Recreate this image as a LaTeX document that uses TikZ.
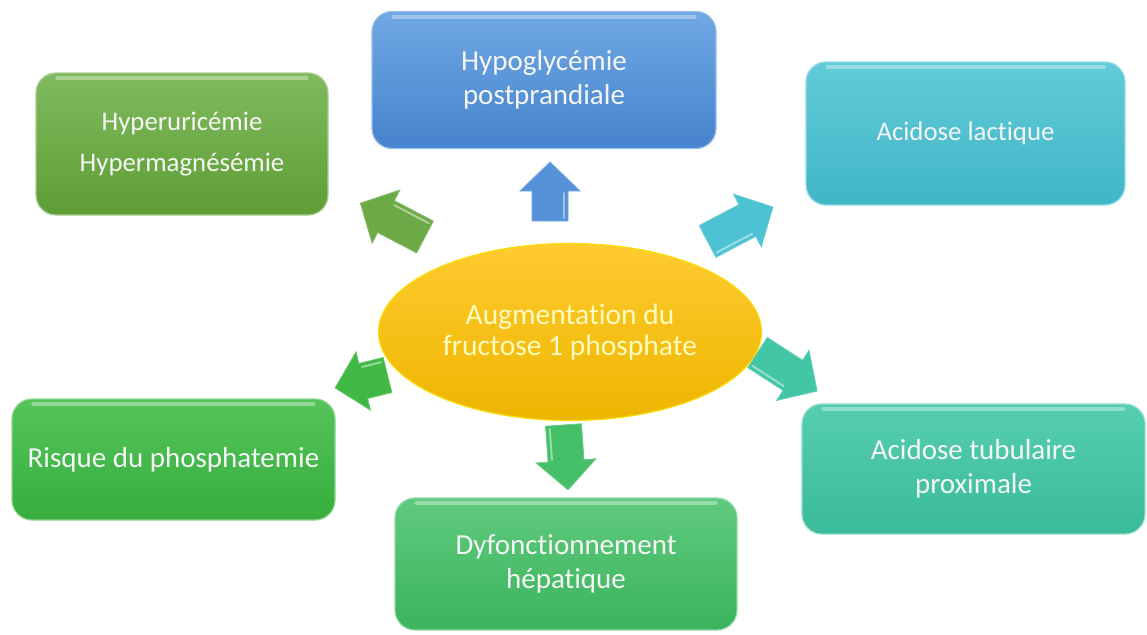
\documentclass[tikz,border=0pt]{standalone}
\usepackage{fontspec}
\setmainfont{Carlito}[Ligatures={NoCommon}]
\usetikzlibrary{shapes.geometric}
\begin{document}
\begin{tikzpicture}[x=1pt,y=-1pt,
  box/.style={rounded corners=20pt, inner sep=0pt, align=center, text=white!96!black,
     font=\fontsize{29}{34}\selectfont, line width=1.2pt},
  smalltext/.style={font=\fontsize{26.8}{33}\selectfont},
  pics/barr/.style 2 args={code={
     \path[fill=#2, draw=#2!80!white, line width=0.8pt]
       (0,-18) -- (#1-29,-18) -- (#1-29,-30) -- (#1,0) -- (#1-29,30) -- (#1-29,18) -- (0,18) -- cycle;
     \path[draw=white, opacity=0.45, line width=2pt, line cap=round]
       (3,14) -- (#1-31,14);
  }}
]
\definecolor{gA}{HTML}{6CAA47}\definecolor{gAt}{HTML}{80BA5E}\definecolor{gAb}{HTML}{5E9E35}
\definecolor{bA}{HTML}{5592D8}\definecolor{bAt}{HTML}{6FA8E3}\definecolor{bAb}{HTML}{4683CD}
\definecolor{cA}{HTML}{4DC2D2}\definecolor{cAt}{HTML}{62CBD8}\definecolor{cAb}{HTML}{40B6C7}
\definecolor{rA}{HTML}{40B846}\definecolor{rAt}{HTML}{55C45A}\definecolor{rAb}{HTML}{36AD3D}
\definecolor{dA}{HTML}{45C068}\definecolor{dAt}{HTML}{60CA7E}\definecolor{dAb}{HTML}{3BB45D}
\definecolor{tA}{HTML}{43C6A5}\definecolor{tAt}{HTML}{55CEB0}\definecolor{tAb}{HTML}{3ABB99}
\definecolor{yA}{HTML}{F6C000}\definecolor{yAt}{HTML}{FFCB30}\definecolor{yAb}{HTML}{EDB500}

\useasboundingbox (0,0) rectangle (1147,634);

% central ellipse
\node[ellipse, minimum width=383pt, minimum height=177pt, inner sep=0pt,
      top color=yAt, bottom color=yAb, draw=yellow!60!yA, line width=1.2pt,
      align=center, text=yellow!25!white, font=\fontsize{29.5}{31}\selectfont]
  (center) at (570,332) {Augmentation du\\fructose 1 phosphate};

% boxes
\node[box, smalltext, minimum width=292pt, minimum height=142pt, top color=gAt, bottom color=gAb, draw=gA!60!white]
  (hyper) at (182,144) {Hyperuricémie\\[8pt]Hypermagnésémie};
\node[box, minimum width=344pt, minimum height=137pt, top color=bAt, bottom color=bAb, draw=bA!60!white]
  (hypo) at (544,80) {Hypoglycémie\\postprandiale};
\node[box, smalltext, minimum width=319pt, minimum height=143pt, top color=cAt, bottom color=cAb, draw=cA!60!white]
  (lact) at (965.5,133.5) {Acidose lactique};
\node[box, minimum width=323pt, minimum height=121pt, top color=rAt, bottom color=rAb, draw=rA!60!white]
  (risk) at (173.5,459.5) {Risque du phosphatemie};
\node[box, minimum width=342pt, minimum height=132pt, top color=dAt, bottom color=dAb, draw=dA!60!white]
  (dysf) at (566,564) {Dyfonctionnement\\hépatique};
\node[box, minimum width=343pt, minimum height=130pt, top color=tAt, bottom color=tAb, draw=tA!60!white]
  (tubu) at (973.5,469) {Acidose tubulaire\\proximale};

% glossy top highlights
\foreach \n in {hyper,hypo,lact,risk,dysf,tubu}{
  \draw[white, opacity=0.35, line width=4pt, line cap=round]
    ([xshift=22pt,yshift=-6pt]\n.north west) -- ([xshift=-22pt,yshift=-6pt]\n.north east);
}

% block arrows
\pic[rotate=152.4] (aUL) at (425,237) {barr={73}{gA}};
\pic[rotate=90]    (aUp) at (550,221) {barr={59}{bA}};
\pic[rotate=27.8]  (aUR) at (707.5,241.5) {barr={74}{cA}};
\pic[rotate=193.9] (aDL) at (387.5,375) {barr={54}{rA}};
\pic[rotate=-32.9] (aDR) at (757.5,352.5) {barr={71}{tA}};
\pic[rotate=-86]   (aDn) at (563.5,425) {barr={65}{dA}};
\end{tikzpicture}
\end{document}
